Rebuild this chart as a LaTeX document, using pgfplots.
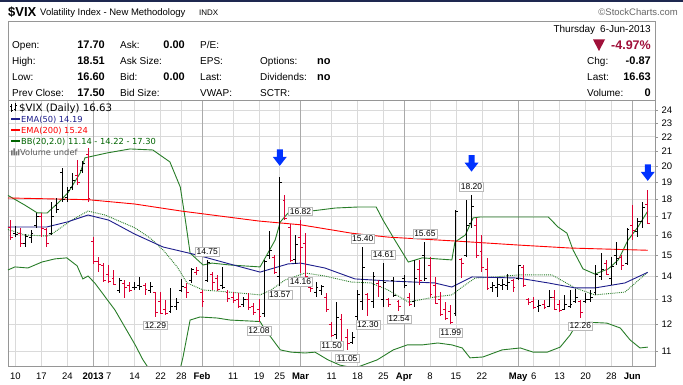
\documentclass[border=0pt]{standalone}
\usepackage{fontspec}
\setmainfont{Liberation Sans}
\newfontfamily\dejavu{DejaVu Sans}
\usepackage{pgfplots}
\usepackage{pgfplotstable}
\pgfplotsset{compat=1.18}

\definecolor{barred}{RGB}{220,0,50}
\definecolor{bbgreen}{RGB}{40,125,40}
\definecolor{bbtext}{RGB}{0,100,0}
\definecolor{emablue}{RGB}{30,30,140}
\definecolor{arrowblue}{RGB}{0,50,255}
\definecolor{gridc}{RGB}{218,218,218}
\definecolor{gridm}{RGB}{170,170,170}
\definecolor{framec}{RGB}{150,150,150}
\definecolor{maroonc}{RGB}{160,16,58}
\definecolor{navybar}{RGB}{30,40,80}

\pgfdeclareplotmark{ctick}{\pgfpathmoveto{\pgfpointorigin}\pgfpathlineto{\pgfpoint{2.4pt}{0pt}}\pgfusepathqstroke}
\pgfdeclareplotmark{otick}{\pgfpathmoveto{\pgfpointorigin}\pgfpathlineto{\pgfpoint{-2.4pt}{0pt}}\pgfusepathqstroke}
\pgfdeclareplotmark{dnarrow}{%
 \pgfpathmoveto{\pgfpoint{-3pt}{8.5pt}}%
 \pgfpathlineto{\pgfpoint{3pt}{8.5pt}}%
 \pgfpathlineto{\pgfpoint{3pt}{1pt}}%
 \pgfpathlineto{\pgfpoint{7pt}{1pt}}%
 \pgfpathlineto{\pgfpoint{0pt}{-8pt}}%
 \pgfpathlineto{\pgfpoint{-7pt}{1pt}}%
 \pgfpathlineto{\pgfpoint{-3pt}{1pt}}%
 \pgfpathclose\pgfusepathqfill}

% i = trading day index (0 = 10 Dec 2012), r = 1 for a red (down) bar
\pgfplotstableread{
i o h l c r
-1 16.40 16.80 15.75 15.90 1
0 16.10 16.50 15.90 16.05 0
1 16.10 16.40 15.40 15.57 1
2 15.60 16.06 15.40 15.95 0
3 15.90 16.27 15.60 16.10 0
4 16.50 17.20 16.40 17.00 0
5 17.00 17.20 15.90 16.34 1
6 16.30 16.40 15.40 15.57 1
7 16.10 17.80 16.00 17.00 0
8 17.60 18.06 17.20 17.36 0
9 19.60 19.90 17.80 17.95 0
10 18.10 18.70 17.80 18.48 0
11 18.70 19.60 18.50 19.08 0
12 19.40 20.40 18.83 19.00 1
13 19.70 20.35 19.60 20.20 0
14 20.80 21.20 17.80 18.02 1
15 15.70 15.90 14.56 14.68 1
16 14.70 14.91 14.21 14.56 1
17 14.50 14.62 13.75 13.83 1
18 14.10 14.53 13.70 13.79 1
19 13.90 14.30 13.60 13.65 1
20 13.40 13.95 13.27 13.81 0
21 13.70 13.84 13.06 13.49 1
22 13.60 13.75 13.31 13.36 1
23 13.50 13.75 13.40 13.52 0
24 13.60 13.97 13.40 13.55 0
25 13.60 13.70 13.19 13.42 1
26 13.40 13.75 13.27 13.57 0
27 13.30 13.31 12.29 12.46 1
28 12.90 13.31 12.40 12.43 1
29 12.60 12.97 12.36 12.40 1
30 12.50 13.49 12.44 12.69 0
31 12.70 13.06 12.56 12.89 0
32 13.40 13.90 13.31 13.57 0
33 13.50 13.70 13.06 13.31 1
34 13.80 14.39 13.70 14.32 0
35 14.20 14.44 14.07 14.28 1
36 13.30 13.40 12.69 12.90 1
37 13.80 14.75 13.75 14.67 0
38 14.10 14.21 13.40 13.72 1
39 13.90 14.07 13.35 13.41 1
40 13.60 14.44 13.45 13.50 0
41 13.30 13.40 12.89 13.02 1
42 13.10 13.31 12.85 12.94 1
43 13.00 13.27 12.64 12.70 1
44 12.80 13.10 12.69 12.98 0
45 13.00 13.27 12.56 12.66 1
46 12.70 12.85 12.36 12.46 1
47 12.60 13.00 12.08 12.31 1
48 12.40 14.77 12.28 14.68 0
49 15.00 16.20 14.80 15.22 0
50 14.90 15.00 14.10 14.17 1
51 14.00 19.33 13.57 18.99 0
52 17.90 18.20 16.80 16.87 1
53 16.40 16.60 14.70 14.73 1
54 14.80 16.00 14.60 15.51 0
55 15.90 16.82 14.16 15.36 1
56 15.60 16.10 13.80 14.00 1
57 13.50 13.60 13.30 13.48 1
58 13.30 13.75 13.10 13.53 0
59 13.40 13.60 13.20 13.55 0
60 13.10 13.27 12.48 12.59 1
61 12.00 12.10 11.50 11.56 1
62 11.60 12.90 11.45 12.27 0
63 12.20 12.40 11.25 11.30 1
64 11.50 11.80 11.05 11.28 1
65 11.30 11.70 11.25 11.50 0
66 12.30 13.40 12.16 13.20 0
67 12.90 15.40 12.56 14.39 0
68 13.20 13.27 12.30 12.99 1
69 12.90 14.20 12.64 13.99 0
70 13.70 13.84 13.10 13.57 1
71 13.00 14.61 12.69 13.74 0
72 13.00 13.06 12.69 12.77 1
73 13.80 13.97 13.10 13.15 0
74 12.90 12.97 12.54 12.70 1
75 13.90 14.07 13.49 13.58 0
76 13.10 13.27 12.74 12.78 1
77 12.90 14.77 12.69 13.89 0
78 14.30 14.77 13.60 13.80 1
79 15.00 15.65 13.80 13.92 0
80 14.50 14.90 13.10 13.19 1
81 13.60 13.97 12.80 12.84 1
82 13.00 13.30 12.30 12.36 1
83 12.60 12.90 12.16 12.24 1
84 12.50 12.77 11.99 12.06 1
85 12.40 17.36 12.30 17.27 0
86 14.80 14.87 13.93 14.61 1
87 15.00 17.93 14.91 16.51 0
88 16.60 18.20 16.40 17.56 0
89 16.50 16.90 14.87 14.97 1
90 15.20 16.00 14.20 14.39 1
91 14.30 14.87 13.40 13.48 1
92 13.50 13.75 13.30 13.61 0
93 13.50 13.95 13.10 13.62 0
94 13.60 13.90 13.40 13.65 0
95 13.60 14.10 13.40 13.71 0
96 13.80 13.90 13.30 13.52 1
97 13.90 14.53 13.84 14.49 0
98 14.40 14.53 13.55 13.59 1
99 13.00 13.06 12.77 12.85 1
100 12.90 13.10 12.60 12.66 1
101 12.70 12.97 12.50 12.73 0
102 12.80 12.97 12.60 12.66 1
103 12.70 13.40 12.69 13.09 0
104 13.10 13.40 12.56 12.59 1
105 12.80 12.97 12.48 12.55 1
106 12.60 13.20 12.56 12.77 0
107 12.70 13.40 12.64 12.80 0
108 12.90 13.45 12.85 13.07 0
109 12.90 12.97 12.26 12.45 1
110 12.90 13.27 12.85 13.00 0
111 13.00 13.40 12.89 13.10 0
112 13.30 14.53 13.20 14.07 0
113 14.00 15.10 13.84 14.30 0
114 14.60 14.77 14.07 14.10 1
115 13.90 14.90 13.62 14.48 0
116 15.00 15.65 14.53 14.83 0
117 14.90 15.00 14.30 14.50 1
118 14.60 16.40 14.53 16.30 0
119 16.50 17.64 15.75 16.27 1
120 16.20 16.90 15.90 16.74 0
121 16.70 17.80 16.40 17.50 0
122 17.70 18.51 16.60 16.63 1
}\ohlc

\pgfplotstableread{
i v t
37 14.75 14.75
55 16.82 16.82
67 15.40 15.40
71 14.61 14.61
79 15.65 15.65
88 18.20 18.20
}\hilabels

\pgfplotstableread{
i v t
27 12.29 12.29
47 12.08 12.08
51 13.57 13.57
55 14.16 14.16
61 11.50 11.50
64 11.05 11.05
68 12.30 12.30
74 12.54 12.54
84 11.99 11.99
109 12.26 12.26
}\lolabels

\begin{document}
\begin{tikzpicture}
\useasboundingbox (0,0) rectangle (683pt,385pt);
\fill[white] (0,0) rectangle (683pt,385pt);
\begin{axis}[
  at={(8pt,19pt)}, anchor=south west,
  scale only axis, width=647pt, height=266pt,
  xmin=-1.44, xmax=123.4,
  ymode=log, ymin=10.48, ymax=24.78,
  ytick={11,12,13,14,15,16,17,18,19,20,21,22,23,24},
  yticklabels={11,12,13,14,15,16,17,18,19,20,21,22,23,24},
  ytick pos=right, yticklabel pos=right,
  tick align=outside, major tick length=3pt,
  minor tick num=0,
  xtick={0,5,10,15,18,23,28,32,36,42,47,51,55,61,66,71,75,80,85,90,97,100,105,110,115,119},
  xticklabels={10,17,24,\textbf{2013},7,14,22,28,\textbf{Feb},11,19,25,\textbf{Mar},11,18,25,\textbf{Apr},8,15,22,\textbf{May},6,13,20,28,\textbf{Jun}},
  x tick style={draw=none},
  y tick style={framec},
  grid=major, major grid style={gridc, line width=0.6pt},
  extra x ticks={15,36,55,75,97,119}, extra x tick labels={},
  extra x tick style={grid=major, major grid style={gridm, line width=0.6pt}, tick style={draw=none}},
  axis line style={framec},
  ticklabel style={font=\fontsize{9.5}{10}\selectfont},
  clip=true,
]
% Bollinger bands
\addplot[bbgreen, line width=0.9pt] coordinates {(-1.44,18.2) (1.8,17.64) (4.2,17.2) (6.1,17.19) (8.2,17.76) (10.1,18.34) (12.5,19.57) (13.4,20.55) (17.7,20.88) (22.1,21.15) (26.5,21.08) (29.8,20.28) (31.8,18.7) (32.7,16.97) (33.7,15.1) (36.2,14.53) (37.9,14.62) (41.4,14.53) (47.2,14.44) (48.7,15.1) (50.1,15.75) (51.1,16.7) (52.6,17.19) (57,17.3) (61.7,17.47) (66.1,17.53) (69.6,17.53) (70.9,16.81) (73.2,15.75) (75.8,14.67) (78.5,14.87) (84.2,14.77) (84.8,15.65) (86.8,16.01) (88.3,16.92) (89.6,16.97) (102.8,16.97) (104.7,16.43) (106.4,16.11) (107.6,15.25) (109.5,14.35) (111.8,14.11) (114.4,14.35) (116.3,14.77) (118.2,15.75) (120.1,16.43) (122,17.3)};
\addplot[bbgreen, line width=0.9pt] coordinates {(-1.44,14.3) (-0.1,14.44) (2.4,14.39) (5.1,14.67) (7.6,14.82) (9.9,14.87) (11.9,14.49) (13,13.89) (14,14.02) (15.3,13.71) (19.2,12.56) (23.1,11.22) (24.6,10.69) (27.9,9.85) (30.8,9.69) (32.3,10.76) (33.7,12.16) (35.6,12.28) (38.9,12.24) (41.4,12.16) (47.2,12.1) (48.2,11.77) (49.3,11.5) (50.7,11.14) (51.1,11.04) (53.2,10.96) (55.9,10.93) (57.8,10.96) (60.3,10.69) (62.6,10.51) (65.5,10.41) (69.8,10.69) (72.9,11.04) (75.6,11.22) (78.5,11.22) (81.5,11.29) (84.2,11.22) (86.2,11.11) (87.7,10.76) (90.2,10.79) (93.9,11.04) (97.4,11.11) (99.9,10.96) (102.6,10.96) (105.1,11.14) (107,11.58) (108.4,12.04) (110.9,12.07) (114.1,12.04) (116.7,11.85) (118.6,11.4) (120.5,11.11) (122,11.14)};
\addplot[bbgreen, line width=0.9pt, densely dotted] coordinates {(-1.44,16.3) (1.8,16.01) (6.1,15.96) (7,16.06) (10.9,16.81) (14,17.3) (17.3,17.08) (23.1,16.38) (26,15.85) (28.5,15.25) (31.2,14.44) (33.1,13.71) (36.2,13.4) (41.4,13.31) (47.2,13.19) (49.3,13.4) (52,13.84) (55.9,14.16) (59.7,14.02) (64.8,13.75) (68.6,13.71) (71.9,13.4) (75.8,12.89) (80.9,13.1) (84.2,13.19) (86.2,13.53) (88.7,13.93) (92.5,13.98) (97,14.07) (103.5,14.07) (108,13.49) (111.8,13.19) (117.6,13.31) (122,14.2)};
% EMAs
\addplot[red, line width=0.9pt] coordinates {(-1.44,18.05) (14,17.95) (23,17.7) (32,17.3) (47,16.75) (55,16.55) (65,16.1) (72,15.9) (85,15.7) (97,15.5) (107,15.35) (122,15.24)};
\addplot[emablue, line width=0.9pt] coordinates {(-1.44,16.43) (6,16.43) (10,16.7) (14,17.08) (18,16.8) (23,16.06) (28.5,15.4) (35,15.01) (41,14.6) (47.2,14.2) (52.6,14.58) (55,14.62) (59.7,14.39) (65.5,13.89) (71.9,13.8) (80.9,13.71) (84.2,13.53) (88.1,13.98) (97,13.93) (102.8,13.71) (108,13.49) (111.8,13.49) (117.6,13.71) (122,14.19)};
% OHLC bars: black (up)
\addplot[black, only marks, mark=ctick, mark options={line width=1pt},
  restrict expr to domain={\thisrow{r}}{-0.5:0.5},
  error bars/.cd, y dir=both, y explicit, error mark=none,
  error bar style={line width=1pt, black}]
  table[x=i, y=c, y error plus expr=\thisrow{h}-\thisrow{c}, y error minus expr=\thisrow{c}-\thisrow{l}] {\ohlc};
\addplot[black, only marks, mark=otick, mark options={line width=1pt},
  restrict expr to domain={\thisrow{r}}{-0.5:0.5}]
  table[x=i, y=o] {\ohlc};
% OHLC bars: red (down)
\addplot[barred, only marks, mark=ctick, mark options={line width=1pt},
  restrict expr to domain={\thisrow{r}}{0.5:1.5},
  error bars/.cd, y dir=both, y explicit, error mark=none,
  error bar style={line width=1pt, barred}]
  table[x=i, y=c, y error plus expr=\thisrow{h}-\thisrow{c}, y error minus expr=\thisrow{c}-\thisrow{l}] {\ohlc};
\addplot[barred, only marks, mark=otick, mark options={line width=1pt},
  restrict expr to domain={\thisrow{r}}{0.5:1.5}]
  table[x=i, y=o] {\ohlc};
% value labels
\addplot[draw=none, mark=none, nodes near coords, point meta=explicit symbolic,
  every node near coord/.style={anchor=south, yshift=4pt, draw=gray!55, fill=white, inner sep=1.3pt, font=\fontsize{8.5}{9}\selectfont, text=black}]
  table[x=i, y=v, meta=t] {\hilabels};
\addplot[draw=none, mark=none, nodes near coords, point meta=explicit symbolic,
  every node near coord/.style={anchor=north, yshift=-4pt, draw=gray!55, fill=white, inner sep=1.3pt, font=\fontsize{8.5}{9}\selectfont, text=black}]
  table[x=i, y=v, meta=t] {\lolabels};
% arrows
\addplot[arrowblue, only marks, mark=dnarrow] coordinates {(51,20.55) (88,20.17) (122,19.58)};
\end{axis}

\begin{scope}[x=1pt, y=-1pt, shift={(0pt,385pt)}]
  \fill[navybar] (0,0) rectangle (683,2);
  \node[anchor=base west, font=\bfseries\fontsize{13}{13}\selectfont, inner sep=0] at (8,17) {\$VIX};
  \node[anchor=base west, font=\fontsize{9.5}{10}\selectfont, inner sep=0] at (40,16) {Volatility Index - New Methodology};
  \node[anchor=base west, font=\fontsize{8}{9}\selectfont, inner sep=0] at (199,16) {INDX};
  \node[anchor=base east, font=\fontsize{9.5}{10}\selectfont, text=black!60, inner sep=0] at (678,16) {\textcopyright StockCharts.com};
  \draw[framec, line width=0.6pt] (8,21) rectangle (655,100);
  % info block
  \begin{scope}[every node/.style={inner sep=0, font=\fontsize{10}{11}\selectfont}]
    \node[anchor=base west] at (12,49) {Open:};
    \node[anchor=base west] at (12,65) {High:};
    \node[anchor=base west] at (12,81) {Low:};
    \node[anchor=base west] at (12,96.5) {Prev Close:};
    \node[anchor=base east, font=\bfseries\fontsize{11}{12}\selectfont] at (105,49) {17.70};
    \node[anchor=base east, font=\bfseries\fontsize{11}{12}\selectfont] at (105,65) {18.51};
    \node[anchor=base east, font=\bfseries\fontsize{11}{12}\selectfont] at (105,81) {16.60};
    \node[anchor=base east, font=\bfseries\fontsize{11}{12}\selectfont] at (105,96.5) {17.50};
    \node[anchor=base west] at (120,49) {Ask:};
    \node[anchor=base west] at (120,65) {Ask Size:};
    \node[anchor=base west] at (120,81) {Bid:};
    \node[anchor=base west] at (120,96.5) {Bid Size:};
    \node[anchor=base east, font=\bfseries\fontsize{11}{12}\selectfont] at (185,49) {0.00};
    \node[anchor=base east, font=\bfseries\fontsize{11}{12}\selectfont] at (185,81) {0.00};
    \node[anchor=base west] at (200,49) {P/E:};
    \node[anchor=base west] at (200,65) {EPS:};
    \node[anchor=base west] at (200,81) {Last:};
    \node[anchor=base west] at (200,96.5) {VWAP:};
    \node[anchor=base west] at (260,65) {Options:};
    \node[anchor=base west] at (260,81) {Dividends:};
    \node[anchor=base west] at (260,96.5) {SCTR:};
    \node[anchor=base west, font=\bfseries\fontsize{11}{12}\selectfont] at (317,65) {no};
    \node[anchor=base west, font=\bfseries\fontsize{11}{12}\selectfont] at (317,81) {no};
    \node[anchor=base east] at (651,33) {Thursday\enspace 6-Jun-2013};
    \node[anchor=base east, font=\bfseries\fontsize{12.5}{13}\selectfont, text=maroonc] (pct) at (651,50) {-4.97\%};
    \node[anchor=base west] at (587,65) {Chg:};
    \node[anchor=base west] at (587,81) {Last:};
    \node[anchor=base west] at (587,96.5) {Volume:};
    \node[anchor=base east, font=\bfseries\fontsize{11}{12}\selectfont] at (651,65) {-0.87};
    \node[anchor=base east, font=\bfseries\fontsize{11}{12}\selectfont] at (651,81) {16.63};
    \node[anchor=base east, font=\bfseries\fontsize{11}{12}\selectfont] at (651,96.5) {0};
  \end{scope}
  \fill[maroonc] (593,39.5) -- (605,39.5) -- (599,51) -- cycle;
  % legend
  \begin{scope}[every node/.style={inner sep=0, anchor=base west, font=\dejavu\fontsize{8.3}{9}\selectfont}]
    \draw[black, line width=0.8pt] (11.5,104) -- (11.5,112) (11.5,106) -- (10,106) (11.5,110) -- (13,110);
    \draw[black, line width=0.8pt] (15,103) -- (15,111) (15,109) -- (13.6,109) (15,105) -- (16.5,105);
    \node[font=\dejavu\fontsize{10.2}{11}\selectfont] at (19,112) {\$VIX (Daily) 16.63};
    \draw[emablue, line width=1.6pt] (11,119) -- (20,119);
    \node[text=emablue] at (21,122.5) {EMA(50) 14.19};
    \draw[red, line width=1.6pt] (11,130) -- (20,130);
    \node[text=red] at (21,133.5) {EMA(200) 15.24};
    \draw[bbtext, line width=1.6pt] (11,141) -- (20,141);
    \node[text=bbtext] at (21,144.5) {BB(20,2.0) 11.14 - 14.22 - 17.30};
    \fill[black!55] (11,150.5) rectangle (12.5,155.5) (13.3,148.5) rectangle (14.8,155.5) (15.6,151.5) rectangle (17.1,155.5) (17.9,149.5) rectangle (19.4,155.5);
    \node[text=black!65] at (20,155.5) {Volume undef};
  \end{scope}
\end{scope}
\end{tikzpicture}
\end{document}
